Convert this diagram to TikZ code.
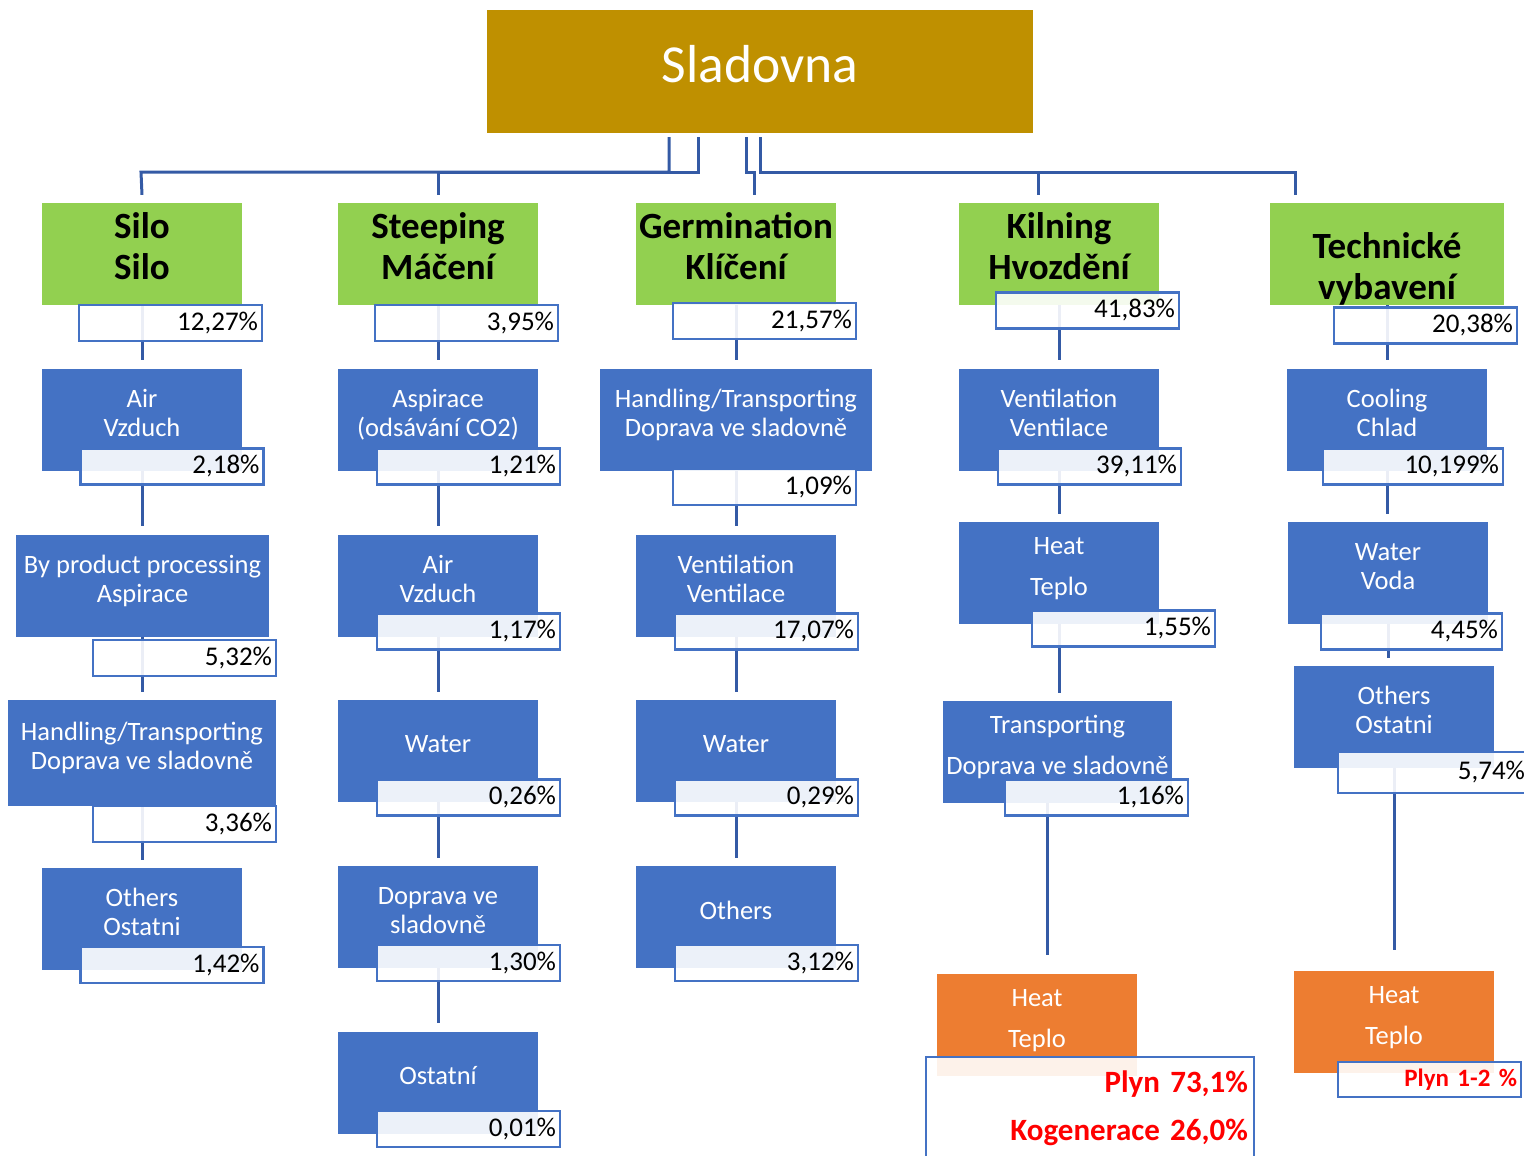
\documentclass[tikz,border=0pt]{standalone}
\usepackage{fontspec}
\setmainfont{Carlito}
\usetikzlibrary{positioning,calc}

\definecolor{malt}{RGB}{191,144,0}
\definecolor{stagegreen}{RGB}{146,208,80}
\definecolor{partblue}{RGB}{68,114,196}
\definecolor{linkblue}{RGB}{52,90,165}
\definecolor{heatorange}{RGB}{237,125,49}
\definecolor{plynred}{RGB}{255,0,0}

\begin{document}
\begin{tikzpicture}[
    x=1pt, y=-1pt,
    root/.style={rectangle, fill=malt, text=white, minimum width=546pt, minimum height=123pt, text depth=16pt, font=\fontsize{53.5}{60}\selectfont},
    stage/.style={rectangle, fill=stagegreen, minimum width=200pt, minimum height=102pt, align=center, text depth=16pt, font=\bfseries\fontsize{37}{41}\selectfont},
    part/.style={rectangle, fill=partblue, text=white, minimum width=200pt, minimum height=102pt, align=center, text depth=14pt, font=\fontsize{26.5}{29}\selectfont},
    spaced/.style={font=\fontsize{26.5}{41}\selectfont},
    heat/.style={part, spaced, fill=heatorange},
    share/.style={rectangle, draw=partblue, line width=2.5pt, fill=white, fill opacity=0.9, text opacity=1, minimum width=183pt, minimum height=36pt, text width=175pt, inner xsep=4pt, align=right, font=\fontsize{27}{29}\selectfont},
    fuel/.style={share, text=plynred, font=\bfseries\fontsize{31}{48}\selectfont},
    link/.style={draw=linkblue, line width=3pt}
]
    \useasboundingbox (0,0) rectangle (1524,1156);

    % Root
    \node[root] (root) at (760,71.5) {Sladovna};

    % Stages
    \node[stage] (silo) at (142,254) {Silo\\Silo};
    \node[stage] (steep) at (438,254) {Steeping\\Máčení};
    \node[stage] (germ) at (736,254) {Germination\\Klíčení};
    \node[stage] (kiln) at (1059,254) {Kilning\\Hvozdění};
    \node[stage, minimum width=234pt] (tech) at (1387,254) {};
    \node[font=\bfseries\fontsize{37}{41}\selectfont, align=center] (techtext) at (1387,269) {Technické\\vybavení};

    % Silo column
    \node[part] (siloair) at (142,419.5) {Air\\Vzduch};
    \node[part, minimum width=253pt] (silobyp) at (142.5,585.5) {By product processing\\Aspirace};
    \node[part, minimum width=268pt, minimum height=106pt] (silohand) at (142,753) {Handling/Transporting\\Doprava ve sladovně};
    \node[part] (silooth) at (142,919) {Others\\Ostatni};

    % Steeping column
    \node[part] (steepasp) at (438,419.5) {Aspirace\\(odsávání CO2)};
    \node[part] (steepair) at (438,585.5) {Air\\Vzduch};
    \node[part] (steepwat) at (438,751) {Water};
    \node[part] (steepdop) at (438,917) {Doprava ve\\sladovně};
    \node[part] (steepost) at (438,1082.5) {Ostatní};

    % Germination column
    \node[part, minimum width=272pt] (germhand) at (736,419.5) {Handling/Transporting\\Doprava ve sladovně};
    \node[part] (germvent) at (736,585.5) {Ventilation\\Ventilace};
    \node[part] (germwat) at (736,751) {Water};
    \node[part] (germoth) at (736,917) {Others};

    % Kilning column
    \node[part] (kilnvent) at (1059,419.5) {Ventilation\\Ventilace};
    \node[part, spaced] (kilnheat) at (1059,573) {Heat\\Teplo};
    \node[part, spaced, minimum width=225pt] (kilntrans) at (1057.5,752) {Transporting\\Doprava ve sladovně};
    \node[heat] (kilnfuel) at (1037,1025) {Heat\\Teplo};

    % Technical column
    \node[part] (techcool) at (1387,419.5) {Cooling\\Chlad};
    \node[part] (techwat) at (1388,573) {Water\\Voda};
    \node[part] (techoth) at (1394,717) {Others\\Ostatni};
    \node[heat] (techfuel) at (1394,1022) {Heat\\Teplo};

    % Bus from root
    \draw[link] ([xshift=-91pt,yshift=-4pt]root.south) |- (141,172) -- ([yshift=8pt]silo.north);
    \draw[link] ([xshift=-62pt,yshift=-4pt]root.south) |- (438,172) -- ([yshift=8pt]steep.north);
    \draw[link] ([xshift=-14pt,yshift=-4pt]root.south) -- ++(0,35) -| ([xshift=18pt,yshift=8pt]germ.north);
    \draw[link] ([yshift=-4pt]root.south) |- (1038,172) -- ([xshift=-21pt,yshift=8pt]kiln.north);
    \draw[link] (1038,172) -| ([xshift=-92pt,yshift=8pt]tech.north);

    % Column links
    \foreach \a/\b in {silo/siloair, siloair/silobyp, silobyp/silohand, silohand/silooth,
                       steep/steepasp, steepasp/steepair, steepair/steepwat, steepwat/steepdop, steepdop/steepost,
                       germ/germhand, germhand/germvent, germvent/germwat, germwat/germoth,
                       kiln/kilnvent, kilnvent/kilnheat, kilnheat/kilntrans,
                       tech/techcool, techcool/techwat, techwat/techoth}
        \draw[link, shorten >=8pt] (\a.south) -- (\a.south |- \b.north);
    \draw[link, shorten >=19pt] ([xshift=-10.5pt]kilntrans.south) -- ([xshift=-10.5pt]kilntrans.south |- kilnfuel.north);
    \draw[link, shorten >=21pt] (techoth.south) -- (techoth.south |- techfuel.north);

    % Shares
    \node[share] (silopct) at (170.5,323) {12,27\%};
    \node[share] (steeppct) at (466.5,323) {3,95\%};
    \node[share] (germpct) at (764.5,321) {21,57\%};
    \node[share] (kilnpct) at (1087.5,310.5) {41,83\%};
    \node[share] (techpct) at (1425.5,325.5) {20,38\%};

    \node[share] (siloairpct) at (172,466.5) {2,18\%};
    \node[share] (silobyppct) at (184.5,658) {5,32\%};
    \node[share] (silohandpct) at (184.5,824) {3,36\%};
    \node[share] (silootherpct) at (172,965) {1,42\%};

    \node[share] (steepasppct) at (468.5,466.5) {1,21\%};
    \node[share] (steepairpct) at (468.5,631.5) {1,17\%};
    \node[share] (steepwatpct) at (468.5,797.5) {0,26\%};
    \node[share] (steepdoppct) at (468.5,963) {1,30\%};
    \node[share] (steepostpct) at (468.5,1129) {0,01\%};

    \node[share] (germhandpct) at (764.5,487) {1,09\%};
    \node[share] (germventpct) at (766.5,631.5) {17,07\%};
    \node[share] (germwatpct) at (766.5,797.5) {0,29\%};
    \node[share] (germothpct) at (766.5,963) {3,12\%};

    \node[share] (kilnventpct) at (1089.5,466.5) {39,11\%};
    \node[share] (kilnheatpct) at (1123.5,628.5) {1,55\%};
    \node[share] (kilntranspct) at (1096.5,797.5) {1,16\%};
    \node[fuel, minimum width=328pt, minimum height=103pt, text width=316pt, inner xsep=6pt] (kilnfuelpct) at (1090,1108.5) {Plyn 73,1\%\\Kogenerace 26,0\%};

    \node[share, minimum width=180pt, text width=172pt] (techcoolpct) at (1413,466.5) {10,199\%};
    \node[share, minimum width=181pt, text width=173pt] (techwatpct) at (1411.5,631.5) {4,45\%};
    \node[share, minimum width=190pt, minimum height=41pt, text width=184pt, inner xsep=3pt] (techothpct) at (1433,772.5) {5,74\%};
    \node[fuel, minimum height=35pt, font=\bfseries\fontsize{25}{28}\selectfont] (techfuelpct) at (1429.5,1079.5) {Plyn 1-2 \%};
\end{tikzpicture}
\end{document}
